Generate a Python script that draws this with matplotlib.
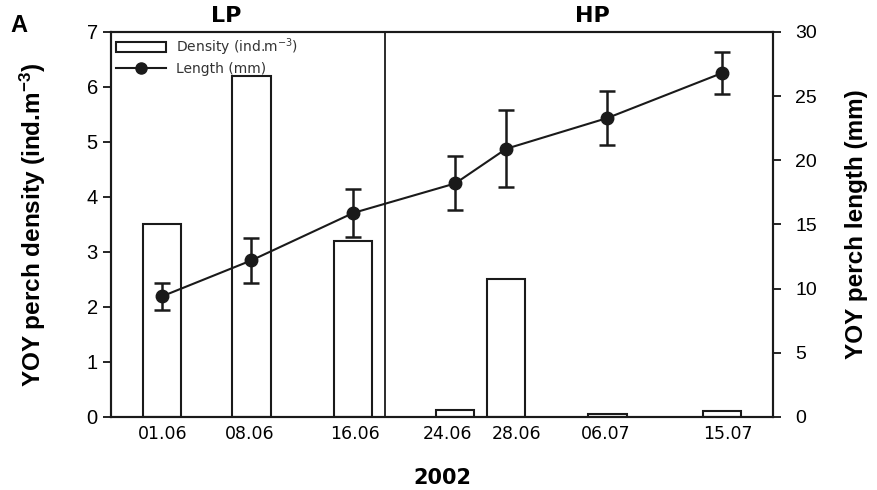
import matplotlib.pyplot as plt
from matplotlib.lines import Line2D

plt.rcParams['font.family'] = ['Liberation Sans', 'DejaVu Sans']
plt.rcParams['mathtext.default'] = 'regular'

# dados
datas = ['01.06', '08.06', '16.06', '24.06', '28.06', '06.07', '15.07']
densidade = [3.5, 6.2, 3.2, 0.13, 2.5, 0.06, 0.11]
comprimento = [9.4, 12.2, 15.9, 18.2, 20.9, 23.3, 26.8]
erro = [1.05, 1.75, 1.85, 2.1, 3.0, 2.1, 1.65]

# posicoes no eixo x (escala 0-100)
pos = [7.7, 21.2, 36.6, 52.0, 59.7, 75.0, 92.3]
pos_rotulos = [7.8, 21.0, 36.9, 50.8, 61.3, 74.8, 93.2]
divisao = 41.4

fig = plt.figure(figsize=(8.78, 4.9), dpi=100)
ax = fig.add_axes([0.1264, 0.149, 0.754, 0.7857])
ax2 = ax.twinx()

barras = ax.bar(pos, densidade, width=5.8, color='white', edgecolor='#1a1a1a',
                linewidth=1.5)
ax.axvline(divisao, color='#1a1a1a', linewidth=1.3)

ax2.errorbar(pos, comprimento, yerr=erro, color='#1a1a1a', marker='o',
             markersize=9, linewidth=1.5, elinewidth=1.8, capsize=6,
             capthick=1.8)

ax.set_xlim(0, 100)
ax.set_ylim(0, 7)
ax2.set_ylim(0, 30)
ax.set_yticks(range(0, 8))
ax2.set_yticks(range(0, 31, 5))
ax.set_xticks(pos_rotulos)
ax.set_xticklabels(datas, fontsize=12.5, family='DejaVu Sans')
ax.tick_params(axis='x', length=0, pad=6)
ax.tick_params(axis='y', labelsize=14.5, length=6, width=1.2, direction='out')
ax2.tick_params(axis='y', labelsize=14, length=6, width=1.2, direction='out', pad=10)

for a in (ax, ax2):
    for s in a.spines.values():
        s.set_linewidth(1.5)
        s.set_color('#1a1a1a')

ax.set_ylabel('YOY perch density (ind.m$^{-3}$)', fontsize=17.5, fontweight='bold', labelpad=28)
ax2.set_ylabel('YOY perch length (mm)', fontsize=17.5, fontweight='bold', labelpad=20)
ax.set_xlabel('2002', fontsize=15, fontweight='bold', labelpad=18, family='DejaVu Sans')

fig.text(0.012, 0.935, 'A', fontsize=17, fontweight='bold')
fig.text(226 / 878, 1 - 16 / 490, 'LP', fontsize=16, fontweight='bold', ha='center', va='center',
         family='DejaVu Sans')
fig.text(592 / 878, 1 - 16 / 490, 'HP', fontsize=16, fontweight='bold', ha='center', va='center',
         family='DejaVu Sans')

linha_leg = Line2D([], [], color='#1a1a1a', marker='o', markersize=8, linewidth=1.5)
leg = ax2.legend([barras, linha_leg], ['Density (ind.m$^{-3}$)', 'Length (mm)'],
                 loc='upper left', bbox_to_anchor=(-0.005, 1.01), frameon=False,
                 fontsize=10, handlelength=3.6, handletextpad=0.7, labelspacing=0.25,
                 borderaxespad=0.2)
for t in leg.get_texts():
    t.set_color('#333333')
    t.set_family('DejaVu Sans')

fig.savefig('out.png', dpi=100)
